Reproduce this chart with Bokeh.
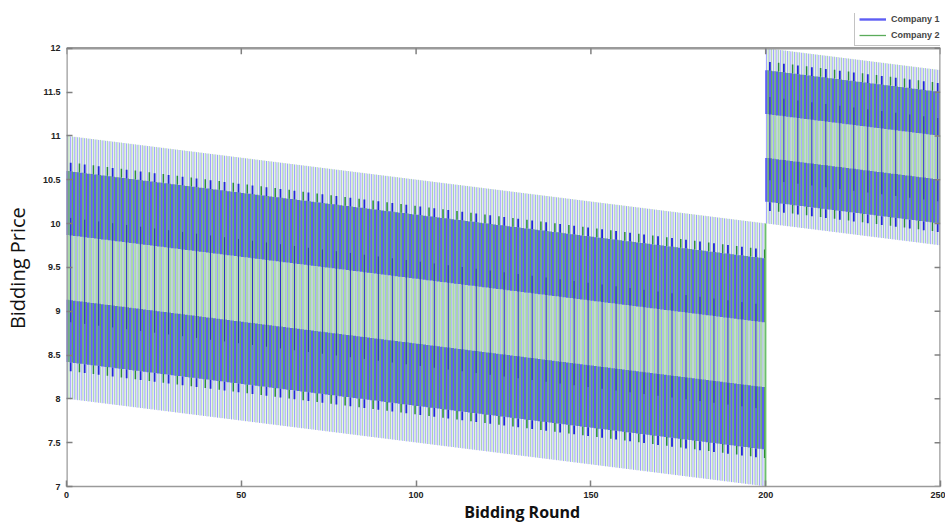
import numpy as np
from bokeh.plotting import figure
from bokeh.models import Range1d, FixedTicker, Legend, LegendItem
from bokeh.embed import file_html
from bokeh.resources import INLINE

# ---- axes ----
x_ticks = [0, 50, 100, 150, 200, 250]
x_tick_labels = ["0", "50", "100", "150", "200", "250"]
y_ticks = [7, 7.5, 8, 8.5, 9, 9.5, 10, 10.5, 11, 11.5, 12]
y_tick_labels = ["7", "7.5", "8", "8.5", "9", "9.5", "10", "10.5", "11", "11.5", "12"]
x_min, x_max, y_min, y_max = 0, 250, 7, 12

# ---- bid price levels ----
# order: ceiling, band-1 top, band-1 bottom, band-2 top, band-2 bottom, floor
phase_rounds = [0, 200, 250]
levels_p1_start = [11.0, 10.6, 9.87, 9.13, 8.42, 8.0]       # round 0
levels_p1_end = [10.0, 9.6, 8.87, 8.13, 7.42, 7.0]          # round 200
levels_p2_start = [12.0, 11.75, 11.25, 10.75, 10.25, 10.0]  # round 200
levels_p2_end = [11.75, 11.5, 11.0, 10.5, 10.0, 9.75]       # round 250
spike_height = 0.1          # short peaks beyond the dense bands (every 4 rounds)
cycle_rounds = 4


def levels(r):
    if r < phase_rounds[1]:
        r0, r1, a, b = phase_rounds[0], phase_rounds[1], levels_p1_start, levels_p1_end
    else:
        r0, r1, a, b = phase_rounds[1], phase_rounds[2], levels_p2_start, levels_p2_end
    t = (r - r0) / (r1 - r0)
    return [a[i] + (b[i] - a[i]) * t for i in range(6)]


rounds = list(range(phase_rounds[0], phase_rounds[2]))
off_b, off_g = 0.2, 0.7   # position of each company's bid inside a round

seg = {k: dict(x=[], y0=[], y1=[]) for k in
       ["b_full", "g_full", "g_mid", "b_band", "g_band", "b_dip", "b_spike", "g_spike"]}


def add(k, x, y0, y1):
    seg[k]["x"].append(x); seg[k]["y0"].append(y0); seg[k]["y1"].append(y1)


for r in rounds:
    c, t1, b1, t2, b2, f = levels(r)
    xb, xg = r + off_b, r + off_g
    add("b_full", xb, f, c)
    add("g_full", xg, f, c)
    add("g_mid", xg, t2, b1)
    add("b_band", xb, b1, t1); add("b_band", xb, b2, t2)
    add("g_band", xg, b1, t1); add("g_band", xg, b2, t2)
    if r % cycle_rounds == 1:
        add("b_dip", xb, t2 - 0.25, b1 + 0.2)
        add("b_spike", xb, t1, t1 + spike_height)
        add("b_spike", xb, b2 - spike_height, b2)
    if r % cycle_rounds == 3:
        add("g_spike", xg, t1, t1 + spike_height)
        add("g_spike", xg, b2 - spike_height, b2)

# switch between the two phases at round 200
jump_x = [phase_rounds[1]]
jump_y0 = [levels_p1_end[5]]
jump_y1 = [levels_p2_start[5]]

# ---- layout ----
W, H = 945, 525
BORDER_TOP, BORDER_BOTTOM, BORDER_LEFT, BORDER_RIGHT = 13, 37, 65, 5
PAD_ABOVE_PX = 35                      # room above y=12 (inside the frame) for the legend
frame_h = H - BORDER_TOP - BORDER_BOTTOM
px_per_unit = (frame_h - PAD_ABOVE_PX) / (y_max - y_min)
y_top = y_max + PAD_ABOVE_PX / px_per_unit

p = figure(width=W, height=H, output_backend="svg", toolbar_location=None,
           x_range=Range1d(x_min, x_max), y_range=Range1d(y_min, y_top),
           min_border_left=BORDER_LEFT, min_border_right=BORDER_RIGHT,
           min_border_top=BORDER_TOP, min_border_bottom=BORDER_BOTTOM)
p.grid.grid_line_color = None
p.outline_line_color = None
p.background_fill_color = "white"
p.border_fill_color = "white"

styles = {
    "b_full": ("#9c9cff", 1.0),
    "g_full": ("#a8d6a8", 1.0),
    "g_mid": ("#aad8a8", 2.3),
    "b_band": ("#5e5ef4", 2.4),
    "g_band": ("#5aab5a", 1.3),
    "b_dip": ("#2c2cc4", 1.0),
    "b_spike": ("#2424d8", 1.8),
    "g_spike": ("#2f8f2f", 1.5),
}
rends = {}
for k, (col, w) in styles.items():
    d = seg[k]
    rends[k] = p.segment(x0=d["x"], y0=d["y0"], x1=d["x"], y1=d["y1"], line_color=col, line_width=w)
p.segment(x0=jump_x, y0=jump_y0, x1=jump_x, y1=jump_y1, line_color="#6cbf6c", line_width=1.4)

# box around the data area (left, top, right) and mirrored inside ticks
BOX = "#9a9a9a"
p.segment(x0=[x_min, x_min, x_max], y0=[y_min, y_max, y_min],
          x1=[x_min, x_max, x_max], y1=[y_max, y_max, y_max], line_color=BOX, line_width=2.5)
tick_len_x = 1.7    # rounds (about 6 px)
tick_len_y = 0.068  # price units (about 6 px)
p.segment(x0=x_ticks, y0=[y_max] * len(x_ticks), x1=x_ticks, y1=[y_max - tick_len_y] * len(x_ticks),
          line_color="#808080", line_width=1.5)
p.segment(x0=[x_max] * len(y_ticks), y0=y_ticks, x1=[x_max - tick_len_x] * len(y_ticks), y1=y_ticks,
          line_color="#808080", line_width=1.5)

TICK_FONT = "Liberation Sans"
for ax in (p.xaxis[0], p.yaxis[0]):
    ax.major_tick_in = 6
    ax.major_tick_out = 0
    ax.minor_tick_line_color = None
    ax.axis_line_color = "#9a9a9a"
    ax.axis_line_width = 1.5
    ax.major_tick_line_color = "#808080"
    ax.major_tick_line_width = 1.5
    ax.major_label_text_font = TICK_FONT
    ax.major_label_text_font_style = "bold"
    ax.major_label_text_font_size = "9px"
    ax.major_label_text_color = "#222222"
p.yaxis[0].axis_line_color = None

p.xaxis[0].ticker = FixedTicker(ticks=x_ticks)
p.xaxis[0].major_label_overrides = {t: l for t, l in zip(x_ticks, x_tick_labels)}
p.xaxis[0].major_label_standoff = 5
# leading spaces move the centred title a little right of centre, as in the original
p.xaxis[0].axis_label = "\u00a0" * 9 + "Bidding Round"
p.xaxis[0].axis_label_text_font = "Open Sans"
p.xaxis[0].axis_label_text_font_style = "bold"
p.xaxis[0].axis_label_text_font_size = "16px"
p.xaxis[0].axis_label_text_color = "#111111"
p.xaxis[0].axis_label_standoff = 0

p.yaxis[0].ticker = FixedTicker(ticks=y_ticks)
p.yaxis[0].major_label_overrides = {t: l for t, l in zip(y_ticks, y_tick_labels)}
p.yaxis[0].major_label_standoff = 6
# trailing spaces keep the rotated title centred on the 7..12 range
p.yaxis[0].axis_label = "Bidding Price" + "\u00a0" * 7
p.yaxis[0].axis_label_text_font = "Open Sans"
p.yaxis[0].axis_label_text_font_style = "normal"
p.yaxis[0].axis_label_text_font_size = "20px"
p.yaxis[0].axis_label_text_color = "#111111"
p.yaxis[0].axis_label_standoff = 9

legend = Legend(items=[LegendItem(label="Company 1", renderers=[rends["b_band"]]),
                       LegendItem(label="Company 2", renderers=[rends["g_band"]])],
                location=(788, (y_max - y_min) * px_per_unit))
legend.label_text_font = TICK_FONT
legend.label_text_font_style = "bold"
legend.label_text_font_size = "9px"
legend.label_height = 12
legend.glyph_height = 12
legend.glyph_width = 27
legend.label_standoff = 5
legend.spacing = 4
legend.padding = 4
legend.margin = 0
legend.border_line_color = "#888888"
legend.border_line_width = 1.5
legend.background_fill_color = "white"
legend.background_fill_alpha = 1.0
p.add_layout(legend)

open("out.html", "w").write(file_html(p, INLINE))
